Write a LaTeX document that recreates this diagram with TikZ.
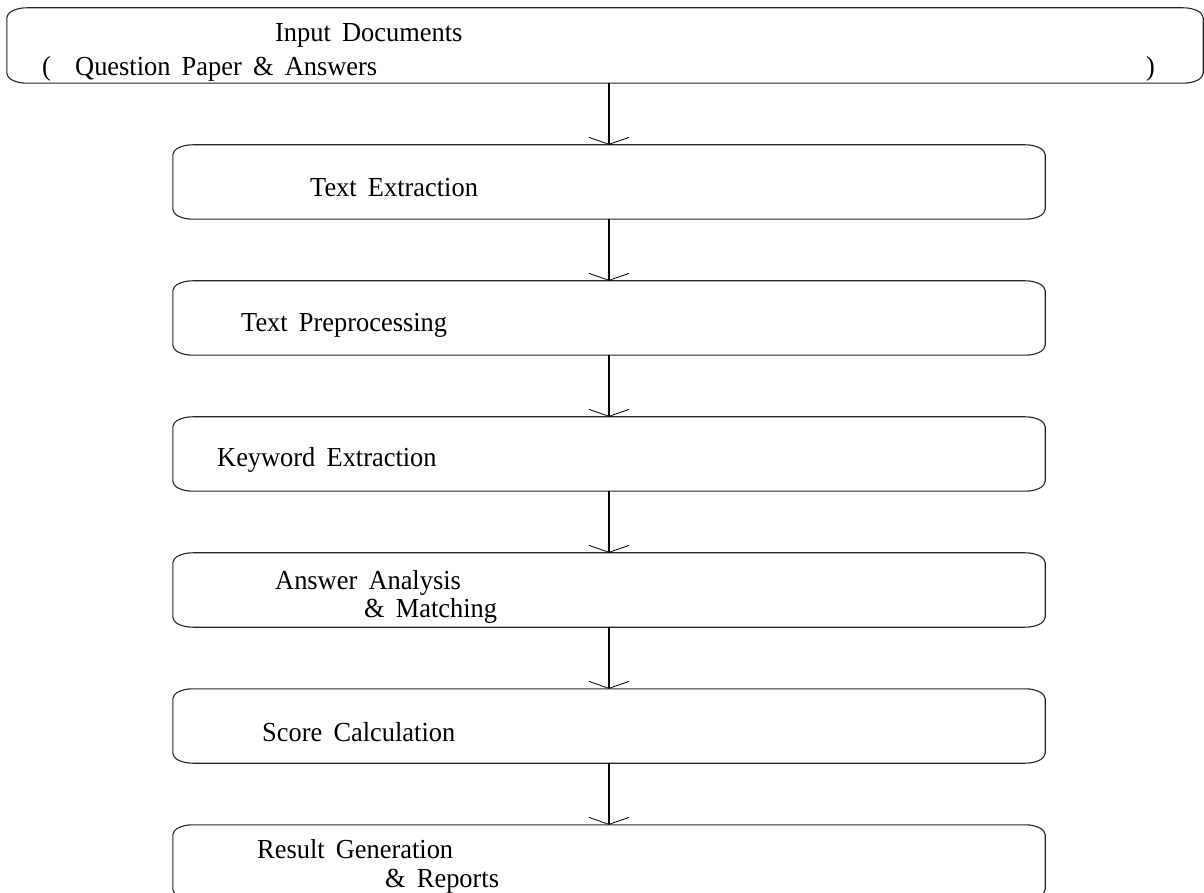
\documentclass[tikz,border=0pt]{standalone}
\usepackage{fontspec}
\setmainfont[WordSpace=1.7,FakeStretch=0.96]{Liberation Serif}
\usetikzlibrary{arrows.meta}
\newcommand\ebox[1]{%
  \draw[boxline] ([xshift=20pt]#1.north west) -- ([xshift=-20pt]#1.north east)
    arc[start angle=90,end angle=0,x radius=20pt,y radius=10pt]
    -- ([yshift=10pt]#1.south east)
    arc[start angle=0,end angle=-90,x radius=20pt,y radius=10pt]
    -- ([xshift=20pt]#1.south west)
    arc[start angle=270,end angle=180,x radius=20pt,y radius=10pt]
    -- ([yshift=-10pt]#1.north west)
    arc[start angle=180,end angle=90,x radius=20pt,y radius=10pt] -- cycle;}
\tikzset{
  x=1pt,y=1pt,
  boxarea/.style={rectangle,inner sep=0pt,minimum width=872pt,minimum height=74pt},
  boxline/.style={line width=1.1pt,draw=black!85},
  lbl/.style={anchor=base west,inner sep=0pt,font=\fontsize{27.5}{30}\selectfont},
  arr/.style={line width=1.4pt,-{Straight Barb[length=7pt,width=40pt,line width=0.8pt]}}
}
\begin{document}
\begin{tikzpicture}
\useasboundingbox (0,0) rectangle (1204,892);
\begin{scope}
\clip (0,0) rectangle (1204,892);
\node[boxarea,minimum width=1196pt,minimum height=75pt] (in) at (605,846.5) {};
\node[boxarea] (te) at (609,710) {};
\node[boxarea] (tp) at (609,574) {};
\node[boxarea] (ke) at (609,438) {};
\node[boxarea] (aa) at (609,302) {};
\node[boxarea] (sc) at (609,166) {};
\node[boxarea] (rg) at (609,30) {};
\ebox{in}\ebox{te}\ebox{tp}\ebox{ke}\ebox{aa}\ebox{sc}\ebox{rg}
\end{scope}
\node[lbl] (t1) at (275,850) {Input Documents};
\node[lbl] (t2) at (42,816) {(};
\node[lbl] (t3) at (75,816) {Question Paper \& Answers};
\node[lbl] (t4) at (1146,816) {)};
\node[lbl] (t5) at (310,695) {Text Extraction};
\node[lbl] (t6) at (241,560) {Text Preprocessing};
\node[lbl] (t7) at (217,425) {Keyword Extraction};
\node[lbl] (t8) at (275,302) {Answer Analysis};
\node[lbl] (t9) at (364,274) {\& Matching};
\node[lbl] (t10) at (262,151) {Score Calculation};
\node[lbl] (t11) at (257,34) {Result Generation};
\node[lbl] (t12) at (385,5) {\& Reports};
\draw[arr] (in.south -| te.north) -- (te.north);
\draw[arr] (te.south) -- (tp.north);
\draw[arr] (tp.south) -- (ke.north);
\draw[arr] (ke.south) -- (aa.north);
\draw[arr] (aa.south) -- (sc.north);
\draw[arr] (sc.south) -- (rg.north);
\end{tikzpicture}
\end{document}
